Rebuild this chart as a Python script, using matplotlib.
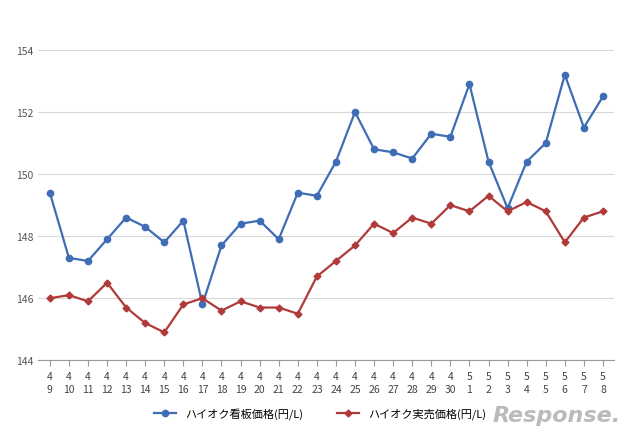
import matplotlib
matplotlib.use("Agg")
import matplotlib.pyplot as plt

months = [4]*22 + [5]*8
days = list(range(9, 31)) + list(range(1, 9))
labels = [f"{m}\n{d}" for m, d in zip(months, days)]
signboard = [149.4,147.3,147.2,147.9,148.6,148.3,147.8,148.5,145.8,147.7,148.4,148.5,147.9,149.4,149.3,
             150.4,152.0,150.8,150.7,150.5,151.3,151.2,152.9,150.4,148.9,150.4,151.0,153.2,151.5,152.5]
actual = [146.0,146.1,145.9,146.5,145.7,145.2,144.9,145.8,146.0,145.6,145.9,145.7,145.7,145.5,146.7,
          147.2,147.7,148.4,148.1,148.6,148.4,149.0,148.8,149.3,148.8,149.1,148.8,147.8,148.6,148.8]
yticks = [144, 146, 148, 150, 152, 154]

plt.rcParams["font.family"] = ["Noto Sans CJK JP"]
fig = plt.figure(figsize=(6.4, 4.39), dpi=100)
ax = fig.add_axes([0.06, 0.177, 0.90, 0.707])
x = range(len(labels))
ax.plot(x, signboard, color="#3e6db5", lw=1.6, marker="o", ms=4.5, label="ハイオク看板価格(円/L)")
ax.plot(x, actual, color="#b03a3a", lw=1.6, marker="D", ms=3.5, label="ハイオク実売価格(円/L)")
ax.set_ylim(144, 154)
ax.set_yticks(yticks)
ax.set_xlim(-0.6, len(labels) - 0.4)
ax.set_xticks(list(x))
ax.set_xticklabels(labels, fontsize=7.5, color="#444444", linespacing=1.4)
ax.tick_params(axis="y", labelsize=7.5, labelcolor="#555555", length=0)
ax.tick_params(axis="x", length=4, color="#999999")
ax.grid(axis="y", color="#d8d8d8", lw=0.8)
ax.set_axisbelow(True)
for s in ["top", "right", "left"]:
    ax.spines[s].set_visible(False)
ax.spines["bottom"].set_color("#999999")
fig.legend(loc="lower center", bbox_to_anchor=(0.5, 0.02), ncol=2, frameon=False, fontsize=8, columnspacing=3)
fig.text(0.97, 0.03, "Response.", ha="right", va="bottom", fontsize=16, color="#bbbbbb", style="italic", fontweight="bold", family="DejaVu Sans")
fig.savefig("out.png", dpi=100)
